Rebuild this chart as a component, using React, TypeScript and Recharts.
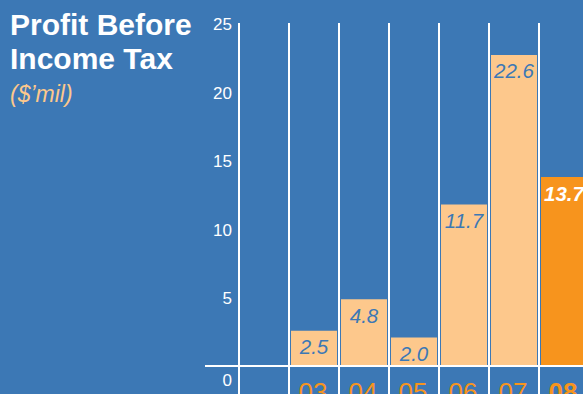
import { BarChart, Bar, XAxis, YAxis, Cell, LabelList, ReferenceLine } from 'recharts';

const categories = ['', '03', '04', '05', '06', '07', '08'];
const profit = [null, 2.5, 4.8, 2.0, 11.7, 22.6, 13.7];
const yTicks = [0, 5, 10, 15, 20, 25];
const highlightYear = '08';

const BG = '#3c78b5';
const LIGHT = '#fdc88c';
const BRIGHT = '#f7941d';
const FONT = '"Liberation Sans", Arial, sans-serif';

const data = categories.map((year, i) => ({ year, profit: profit[i] }));

// white divider at the left edge of a category column, running past the plot
const Divider = (props: any) => {
    const { x1, y1, y2 } = props;
    const top = Math.min(y1, y2);
    return <line x1={x1} x2={x1} y1={top + 1} y2={top + 420} stroke="#fff" strokeWidth={2} />;
};

const YTick = (props: any) => {
    const { x, y, payload } = props;
    return (
        <text x={x + 1} y={y} dy={payload.value === 0 ? 21 : 8} textAnchor="end" fill="#fff" fontSize={17} fontFamily={FONT}>
            {payload.value}
        </text>
    );
};

const XTick = (props: any) => {
    const { x, y, payload } = props;
    const hot = payload.value === highlightYear;
    return (
        <text x={x - 1} y={y} dy={28} textAnchor="middle" fill={BRIGHT} fontSize={26} fontWeight={hot ? 'bold' : 'normal'} fontFamily={FONT}>
            {payload.value}
        </text>
    );
};

const ValueLabel = (props: any) => {
    const { x, y, width, value } = props;
    const row = data.find((d) => d.year === value);
    if (!row || row.profit == null) return null;
    const hot = row.year === highlightYear;
    return (
        <text
            x={x + width / 2}
            y={y + 23.5}
            textAnchor="middle"
            fill={hot ? '#fff' : BG}
            fontSize={20.5}
            fontStyle="italic"
            fontWeight={hot ? 'bold' : 'normal'}
            fontFamily={FONT}
        >
            {row.profit.toFixed(1)}
        </text>
    );
};

const Baseline = (props: any) => {
    const { x1, x2, y1 } = props;
    return <line x1={x1 - 34} x2={x2 + 20} y1={y1 + 1} y2={y1 + 1} stroke="#fff" strokeWidth={2} />;
};

export default function App() {
    return (
        <div
            style={{
                position: 'fixed',
                left: 0,
                top: 0,
                width: 583,
                height: 394,
                overflow: 'hidden',
                background: BG,
                fontFamily: FONT,
            }}
        >
            <div style={{ position: 'absolute', left: 10, top: 8, color: '#fff', fontWeight: 'bold', fontSize: 30, lineHeight: '34px' }}>
                Profit Before
                <br />
                Income Tax
            </div>
            <div style={{ position: 'absolute', left: 10, top: 81, color: LIGHT, fontStyle: 'italic', fontSize: 23, lineHeight: '27px' }}>
                ($’mil)
            </div>
            <div style={{ position: 'absolute', left: 0, top: 0 }}>
                <BarChart
                    width={600}
                    height={394}
                    data={data}
                    margin={{ top: 22, right: 11, bottom: 0, left: 0 }}
                    barCategoryGap={2}
                >
                    <YAxis
                        width={239}
                        domain={[0, 25]}
                        ticks={yTicks}
                        axisLine={false}
                        tickLine={false}
                        tick={<YTick />}
                        interval={0}
                    />
                    <XAxis
                        dataKey="year"
                        height={29}
                        axisLine={false}
                        tickLine={false}
                        tick={<XTick />}
                        interval={0}
                    />
                    <Bar dataKey="profit" isAnimationActive={false}>
                        {data.map((d) => (
                            <Cell key={d.year} fill={d.year === highlightYear ? BRIGHT : LIGHT} />
                        ))}
                        <LabelList dataKey="year" content={<ValueLabel />} />
                    </Bar>
                    {categories.map((c) => (
                        <ReferenceLine key={`div-${c}`} x={c} position="start" shape={<Divider />} />
                    ))}
                    <ReferenceLine y={0} shape={<Baseline />} ifOverflow="visible" />
                </BarChart>
            </div>
        </div>
    );
}
